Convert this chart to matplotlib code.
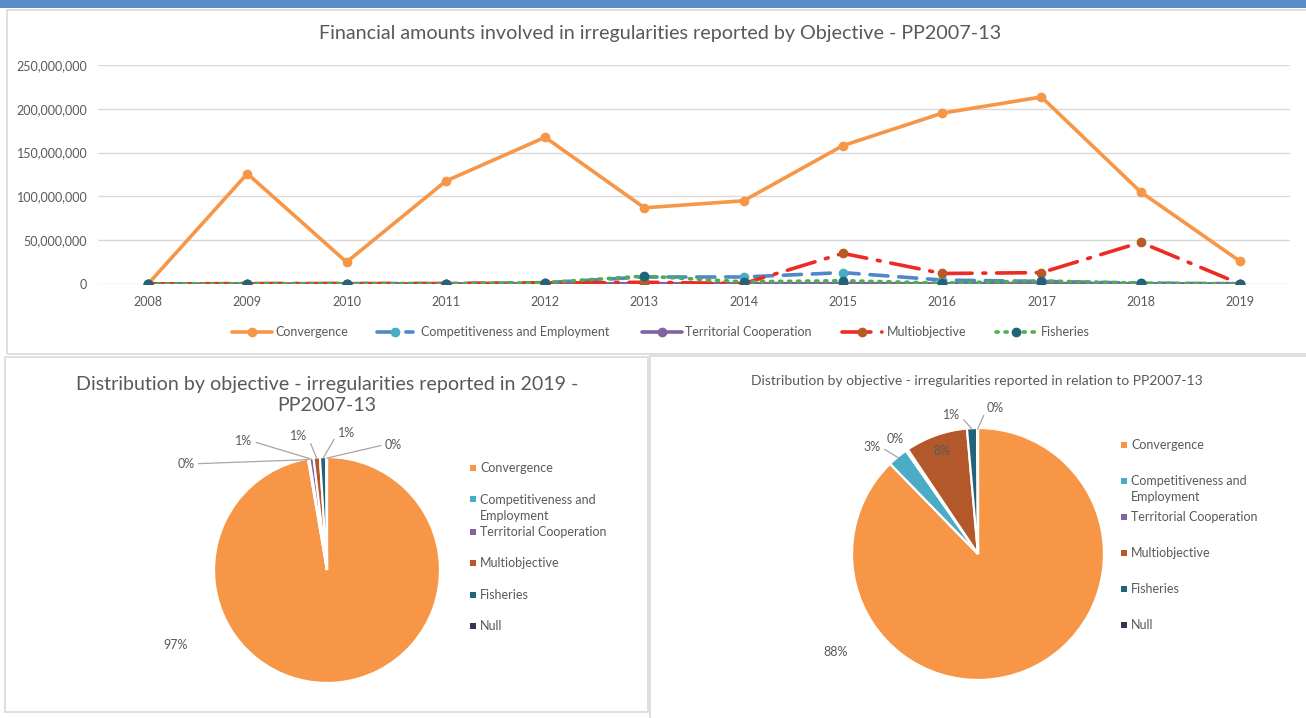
import math
import matplotlib
matplotlib.use("Agg")
import matplotlib.pyplot as plt
from matplotlib.patches import Rectangle
from matplotlib.lines import Line2D
from matplotlib.ticker import FuncFormatter

plt.rcParams['font.family'] = ['Lato', 'DejaVu Sans']

# ---------------- data ----------------
years = [2008, 2009, 2010, 2011, 2012, 2013, 2014, 2015, 2016, 2017, 2018, 2019]
convergence = [0, 126.0e6, 25.0e6, 117.5e6, 167.5e6, 87.0e6, 95.0e6, 158.0e6,
               195.0e6, 213.5e6, 105.0e6, 26.0e6]
competitiveness = [0, 0.3e6, 0.5e6, 0.5e6, 1.5e6, 8.0e6, 8.0e6, 13.0e6,
                   4.5e6, 3.0e6, 1.0e6, 0.3e6]
territorial = [0, 0.0, 0.1e6, 0.2e6, 0.3e6, 0.3e6, 0.3e6, 0.4e6,
               0.3e6, 0.5e6, 0.3e6, 0.1e6]
multiobjective = [0, 0.5e6, 0.5e6, 0.5e6, 1.0e6, 2.0e6, 0.5e6, 35.0e6,
                  12.0e6, 13.0e6, 47.5e6, 0.2e6]
fisheries = [0, 0.2e6, 0.3e6, 0.3e6, 1.5e6, 9.0e6, 2.5e6, 3.8e6,
             1.0e6, 3.5e6, 1.0e6, 0.2e6]
y_ticks = [0, 50e6, 100e6, 150e6, 200e6, 250e6]

objectives = ["Convergence", "Competitiveness and\nEmployment",
              "Territorial Cooperation", "Multiobjective", "Fisheries", "Null"]
share_2019 = [97.3, 0.2, 0.6, 0.9, 0.9, 0.1]
share_all = [87.7, 2.6, 0.3, 8.0, 1.3, 0.1]

# ---------------- style ----------------
W, H = 1306, 718
GREY_TXT = '#595959'
GRID = '#D9D9D9'
pie_colors = ['#F79646', '#4BACC6', '#8064A2', '#B2582A', '#216479', '#3F3151']


def fx(px):
    return px / W


def fy(py):
    return 1 - py / H


def px_axes(fig, x0, y0, x1, y1):
    return fig.add_axes([fx(x0), fy(y1), (x1 - x0) / W, (y1 - y0) / H])


fig = plt.figure(figsize=(W / 100, H / 100), dpi=100)
fig.patch.set_facecolor('white')

# spreadsheet strip and chart frames
fig.add_artist(Rectangle((0, fy(8)), 1, 8 / H, transform=fig.transFigure,
                         facecolor='#5B8BC8', edgecolor='none'))
for (x0, y0, x1, y1) in [(7, 10, 1310, 354), (5, 357, 648, 712), (650, 356, 1310, 722)]:
    fig.add_artist(Rectangle((fx(x0), fy(y1)), (x1 - x0) / W, (y1 - y0) / H,
                             transform=fig.transFigure, facecolor='none',
                             edgecolor=GRID, lw=1.2))

# ---------------- line chart ----------------
ax = px_axes(fig, 98.4, 65, 1289.6, 284)
series = [
    ("Convergence", convergence, dict(color='#F79646', ls='-', mfc='#F79646', mec='#F79646')),
    ("Competitiveness and Employment", competitiveness,
     dict(color='#4F87C8', ls=(0, (5, 3)), mfc='#4BACC6', mec='#4BACC6')),
    ("Territorial Cooperation", territorial, dict(color='#8064A2', ls='-', mfc='#8064A2', mec='#8064A2')),
    ("Multiobjective", multiobjective,
     dict(color='#EE2A24', ls=(0, (8, 3, 0.8, 3)), mfc='#B65A26', mec='#B65A26')),
    ("Fisheries", fisheries,
     dict(color='#4CB04A', ls=(0, (0.6, 1.9)), mfc='#216479', mec='#216479')),
]
for name, vals, st in series:
    ax.plot(years, vals, lw=2.6, marker='o', ms=6, dash_capstyle='round',
            solid_capstyle='round', **st)

ax.set_xlim(2007.5, 2019.5)
ax.set_ylim(0, 250e6)
ax.set_yticks(y_ticks)
ax.set_xticks(years)
ax.yaxis.set_major_formatter(FuncFormatter(lambda v, p: f"{int(v):,}"))
ax.grid(axis='y', color=GRID, lw=1)
ax.set_axisbelow(True)
for s in ax.spines.values():
    s.set_visible(False)
ax.tick_params(length=0, labelsize=9, labelcolor=GREY_TXT)
ax.tick_params(axis='y', pad=8)
ax.tick_params(axis='x', pad=9)
ax.patch.set_alpha(0)
fig.text(fx(660), fy(33), "Financial amounts involved in irregularities reported by Objective - PP2007-13",
         ha='center', va='center', fontsize=14.2, color=GREY_TXT)

# legend of the line chart
leg_x = [(232, 272, 275), (377, 413, 421), (642, 682, 685), (842, 882, 887), (996, 1036, 1041)]
for (name, vals, st), (l0, l1, tx) in zip(series, leg_x):
    yy = fy(332)
    fig.add_artist(Line2D([fx(l0), fx(l1)], [yy, yy], transform=fig.transFigure,
                          color=st['color'], ls=st['ls'], lw=2.6, dash_capstyle='round',
                          solid_capstyle='round'))
    fig.add_artist(Line2D([fx((l0 + l1) / 2)], [yy], transform=fig.transFigure,
                          marker='o', ms=6, mfc=st['mfc'], mec=st['mec'], ls='none'))
    fig.text(fx(tx), yy, name, ha='left', va='center', fontsize=9, color=GREY_TXT)


# ---------------- pies ----------------
def draw_pie(cx, cy, r, shares, labels_pos, title, title_xy, title_size,
             legend_x, legend_rows):
    pax = px_axes(fig, cx - r, cy - r, cx + r, cy + r)
    wedges, _ = pax.pie(shares, colors=pie_colors, startangle=90, counterclock=False,
                        radius=1, wedgeprops=dict(edgecolor='white', lw=1.6))
    pax.set_xlim(-1, 1)
    pax.set_ylim(-1, 1)
    pax.set_aspect('equal')
    pax.axis('off')
    total = sum(shares)
    for w, v, (lx, ly, side) in zip(wedges, shares, labels_pos):
        txt = f"{round(100 * v / total):d}%"
        if side is None:
            pax.text(lx, ly, txt, ha='center', va='center', fontsize=9, color=GREY_TXT)
            continue
        a = math.radians((w.theta1 + w.theta2) / 2)
        relpos = (1, 0.5) if side == 'r' else (0, 0.5)
        pax.annotate(txt, xy=(math.cos(a) * 0.99, math.sin(a) * 0.99), xytext=(lx, ly),
                     ha='center', va='center', fontsize=9, color=GREY_TXT,
                     arrowprops=dict(arrowstyle='-', color='#A6A6A6', lw=0.9,
                                     shrinkA=1, shrinkB=0, relpos=relpos))
    fig.text(fx(title_xy[0]), fy(title_xy[1]), title, ha='center', va='center',
             fontsize=title_size, color=GREY_TXT, linespacing=1.25)
    for lab, col, (ry, ty) in zip(objectives, pie_colors, legend_rows):
        fig.add_artist(Rectangle((fx(legend_x - 3), fy(ry + 3)), 6 / W, 6 / H,
                                 transform=fig.transFigure, facecolor=col, edgecolor='none'))
        fig.text(fx(legend_x + 7), fy(ty), lab, ha='left', va='center', fontsize=9,
                 color=GREY_TXT, linespacing=1.4)


draw_pie(327, 570, 113, share_2019,
         [(-1.34, -0.66, None), (-1.25, 0.94, 'r'), (-0.74, 1.14, 'r'),
          (-0.25, 1.19, 'r'), (0.17, 1.21, 'l'), (0.59, 1.11, 'l')],
         "Distribution by objective - irregularities reported in 2019 -\nPP2007-13",
         (327, 395), 14.1, 473,
         [(468, 468), (499, 507.5), (532, 532), (563, 563), (595, 595), (626, 626)])

draw_pie(978, 554, 126, share_all,
         [(-1.13, -0.78, None), (-0.84, 0.85, 'r'), (-0.66, 0.91, None),
          (-0.29, 0.82, None), (-0.21, 1.10, 'r'), (0.14, 1.16, 'l')],
         "Distribution by objective - irregularities reported in relation to PP2007-13",
         (977, 381), 10, 1124,
         [(445, 445), (481, 489), (517, 517), (553, 553), (589, 589), (625, 625)])

fig.savefig("out.png", dpi=100, facecolor='white')
